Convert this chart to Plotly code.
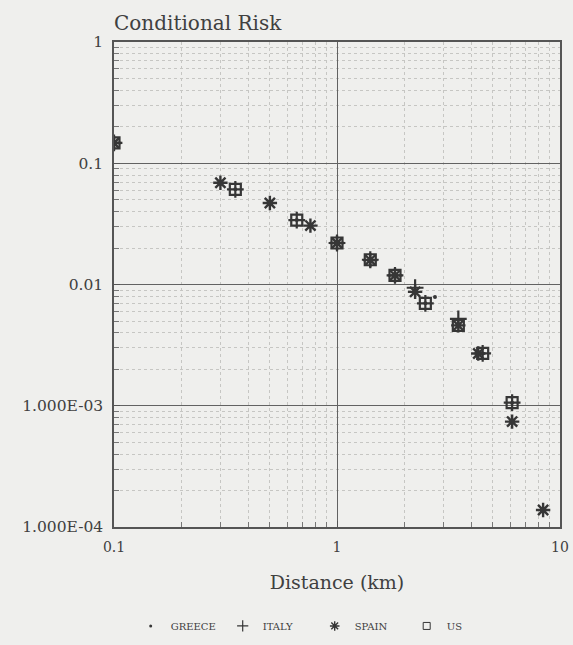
import plotly.graph_objects as go

# Conditional risk versus distance for four countries
greece_km = [0.1, 0.35, 0.66, 1.0, 1.41, 1.82, 2.49, 2.75, 3.5, 4.5, 6.1]
greece_risk = [0.147, 0.061, 0.034, 0.022, 0.016, 0.0119, 0.0070, 0.0079, 0.0046, 0.0027, 0.00106]

italy_km = [0.1, 0.35, 0.66, 1.0, 1.41, 1.82, 2.24, 2.49, 3.5, 4.5, 6.1]
italy_risk = [0.147, 0.061, 0.034, 0.022, 0.016, 0.0119, 0.0094, 0.0070, 0.0052, 0.0027, 0.00106]

spain_km = [0.1, 0.30, 0.50, 0.76, 1.0, 1.41, 1.82, 2.24, 3.5, 4.3, 6.1, 8.4]
spain_risk = [0.147, 0.069, 0.047, 0.0306, 0.022, 0.0159, 0.0119, 0.0087, 0.0046, 0.0027, 0.00074, 0.000138]

us_km = [0.1, 0.35, 0.66, 1.0, 1.41, 1.82, 2.49, 3.5, 4.5, 6.1]
us_risk = [0.147, 0.061, 0.034, 0.022, 0.016, 0.0119, 0.0070, 0.0046, 0.0027, 0.00106]

x_ticks = [0.1, 1, 10]
x_ticktext = ["0.1", "1", "10"]
y_ticks = [1e-4, 1e-3, 0.01, 0.1, 1]
y_ticktext = ["1.000E-04", "1.000E-03", "0.01", "0.1", "1"]

ink = "#363636"
text_ink = "#404040"
font = "DejaVu Serif"


def minor_vals(lo_exp, hi_exp):
    return [m * 10 ** e for e in range(lo_exp, hi_exp) for m in range(2, 10)]


series = [
    ("GREECE", greece_km, greece_risk, dict(symbol="circle", size=4, color=ink),
     dict(symbol="circle", size=3, color=ink)),
    ("ITALY", italy_km, italy_risk,
     dict(symbol="cross-thin-open", size=12, color=ink, line=dict(width=2.2, color=ink)),
     dict(symbol="cross-thin-open", size=8, color=ink, line=dict(width=1.2, color=ink))),
    ("SPAIN", spain_km, spain_risk,
     dict(symbol="asterisk-open", size=12, color=ink, line=dict(width=2.4, color=ink)),
     dict(symbol="asterisk-open", size=8, color=ink, line=dict(width=1.4, color=ink))),
    ("US", us_km, us_risk,
     dict(symbol="square-open", size=11, color=ink, line=dict(width=2.2, color=ink)),
     dict(symbol="square-open", size=7, color=ink, line=dict(width=1, color=ink))),
]

fig = go.Figure()
for name, xs, ys, marker, key_marker in series:
    fig.add_trace(go.Scatter(x=xs, y=ys, mode="markers", name=name, legendgroup=name,
                             showlegend=False, marker=marker))
    # small legend key drawn separately from the data markers
    fig.add_trace(go.Scatter(x=[None], y=[None], mode="markers", name=name,
                             legendgroup=name, marker=key_marker))

axis_common = dict(
    type="log", showline=True, linecolor="#555", linewidth=1.5, mirror=True,
    showgrid=True, gridcolor="#626262", gridwidth=1.4, zeroline=False,
    ticks="inside", ticklen=6, tickcolor="#555", automargin=False,
)

fig.update_xaxes(
    **axis_common, range=[-1, 1], tickvals=x_ticks, ticktext=x_ticktext,
    tickfont=dict(family=font, size=14, color=text_ink), ticklabelstandoff=6,
    title=dict(text="Distance (km)", font=dict(family=font, size=19, color=text_ink), standoff=22),
    minor=dict(tickvals=minor_vals(-1, 1), showgrid=True, gridcolor="#c6c6c3",
               griddash="dot", gridwidth=1, ticks="inside", ticklen=5, tickcolor="#777"),
)
fig.update_yaxes(
    **axis_common, range=[-4, 0], tickvals=y_ticks, ticktext=y_ticktext,
    tickfont=dict(family=font, size=15.5, color=text_ink), ticklabelstandoff=6,
    minor=dict(tickvals=minor_vals(-4, 0), showgrid=True, gridcolor="#c6c6c3",
               griddash="dot", gridwidth=1, ticks="inside", ticklen=5, tickcolor="#777"),
)

fig.update_layout(
    width=573, height=645,
    margin=dict(l=114, r=13, t=42, b=118, autoexpand=False),
    paper_bgcolor="#efefed", plot_bgcolor="#efefed",
    title=dict(text="Conditional Risk", x=114 / 573, xanchor="left", y=0.965, yanchor="middle",
               font=dict(family=font, size=20, color=text_ink)),
    legend=dict(orientation="h", x=0.45, xanchor="center", y=-0.204, yanchor="middle",
                font=dict(family=font, size=10, color=text_ink), bgcolor="rgba(0,0,0,0)",
                entrywidth=47, itemwidth=30),
)

fig.write_html("out.html")
